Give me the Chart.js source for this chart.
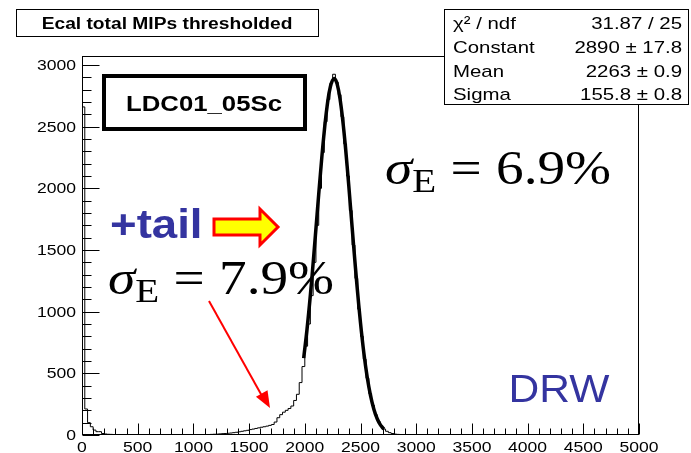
<!DOCTYPE html>
<html lang="en">
<head>
<meta charset="UTF-8">
<title>Ecal total MIPs thresholded</title>
<script src="https://cdn.jsdelivr.net/npm/chart.js"></script>
<style>
  html, body { margin: 0; padding: 0; background: #fff; }
  canvas { display: block; }
</style>
</head>
<body>
<canvas id="myChart" width="691" height="453"></canvas>
<script>
// histogram: 200 bins of width 25 from 0 to 5000
const binWidth = 25;
const counts = [
  2660, 211, 100, 67, 40, 27, 27, 12, 8, 6, 5, 4, 3, 3, 2, 2, 2, 1, 1, 1,
  1, 1, 1, 1, 0, 1, 0, 1, 0, 0, 1, 0, 0, 1, 0, 0, 1, 0, 1, 0,
  1, 1, 1, 2, 3, 4, 5, 6, 7, 9, 11, 12, 14, 16, 19, 22, 26, 30, 34, 38,
  44, 48, 53, 58, 63, 67, 72, 78, 85, 105, 140, 165, 185, 200, 215, 235, 280, 330, 425, 555,
  720, 900, 1130, 1400, 1700, 2000, 2290, 2540, 2720, 2850, 2925, 2860, 2760, 2580, 2360, 2100, 1820, 1540, 1270, 1020,
  800, 615, 460, 335, 240, 165, 112, 75, 48, 30, 19, 12, 7, 5, 3, 2, 1, 1, 0, 1,
  0, 0, 0, 0, 0, 0, 0, 0, 0, 0, 0, 0, 0, 0, 0, 0, 0, 0, 0, 0,
  0, 0, 0, 0, 0, 0, 0, 0, 0, 0, 0, 0, 0, 0, 0, 0, 0, 0, 0, 0,
  0, 0, 0, 0, 0, 0, 0, 0, 0, 0, 0, 0, 0, 0, 0, 0, 0, 0, 0, 0,
  0, 0, 0, 0, 0, 0, 0, 0, 0, 0, 0, 0, 0, 0, 0, 0, 0, 0, 0, 0
];

// gaussian fit curve
const fitX = [1990, 2020, 2050, 2080, 2110, 2140, 2170, 2200, 2230, 2263, 2290, 2320, 2350,
              2380, 2410, 2440, 2470, 2500, 2530, 2560, 2590, 2620, 2650, 2680, 2710];
const fitY = [623, 857, 1135, 1450, 1785, 2116, 2419, 2663, 2826, 2890, 2847, 2703, 2473,
              2180, 1852, 1516, 1196, 909, 666, 470, 319, 209, 132, 80, 47];

const xTicks = [0, 500, 1000, 1500, 2000, 2500, 3000, 3500, 4000, 4500, 5000];
const yTicks = [0, 500, 1000, 1500, 2000, 2500, 3000];

const statNames = ['χ² / ndf', 'Constant', 'Mean', 'Sigma'];
const statValues = ['31.87 / 25', '2890 ± 17.8', '2263 ± 0.9', '155.8 ± 0.8'];

const histPoints = [{x: 0, y: 0}];
counts.forEach((c, i) => histPoints.push({x: i * binWidth, y: c}));
histPoints.push({x: counts.length * binWidth, y: 0});

const fitPoints = fitX.map((x, i) => ({x: x, y: fitY[i]}));

const SANS = '"Liberation Sans", Arial, sans-serif';
const SERIF = '"Liberation Serif", "Times New Roman", serif';

function txt(ctx, s, x, y, font, align, sx, color) {
  ctx.save();
  ctx.font = font;
  ctx.fillStyle = color || '#000';
  ctx.textBaseline = 'alphabetic';
  const w = ctx.measureText(s).width * sx;
  let x0 = x;
  if (align === 'center') x0 = x - w / 2;
  else if (align === 'right') x0 = x - w;
  ctx.translate(x0, y);
  ctx.scale(sx, 1);
  ctx.fillText(s, 0, 0);
  ctx.restore();
  return w;
}

function sigmaE(ctx, x, base, size, num) {
  let cx = x;
  cx += txt(ctx, 'σ', cx, base, 'italic ' + size + 'px ' + SERIF, 'left', 1.15);
  cx += txt(ctx, 'E', cx, base + size * 0.16, Math.round(size * 0.7) + 'px ' + SERIF, 'left', 1.15);
  cx += size * 0.3;
  cx += txt(ctx, '=', cx, base, size + 'px ' + SERIF, 'left', 1.15);
  cx += size * 0.3;
  txt(ctx, num, cx, base, size + 'px ' + SERIF, 'left', 1.15);
}

const overlay = {
  id: 'overlay',
  afterDraw(chart) {
    const ctx = chart.ctx;
    const a = chart.chartArea;
    const xs = chart.scales.x, ys = chart.scales.y;
    ctx.save();
    ctx.strokeStyle = '#000';
    ctx.lineWidth = 1;

    // frame
    const L = Math.round(a.left) + 0.5, R = Math.round(a.right) - 0.5;
    const T = Math.round(a.top) + 0.5, B = Math.round(a.bottom) - 0.5;
    ctx.strokeRect(L, T, R - L, B - T);

    // ticks, pointing inward
    ctx.beginPath();
    for (let v = 0; v <= 5000; v += 100) {
      const px = Math.round(xs.getPixelForValue(v)) + 0.5;
      const len = v % 500 === 0 ? 11 : 6;
      ctx.moveTo(px, B); ctx.lineTo(px, B - len);
    }
    for (let v = 0; v <= ys.max; v += 100) {
      const py = Math.round(ys.getPixelForValue(v)) + 0.5;
      const len = v % 500 === 0 ? 17 : 9;
      ctx.moveTo(L, py); ctx.lineTo(L + len, py);
    }
    ctx.stroke();

    // tick labels
    xTicks.forEach(v => txt(ctx, String(v), xs.getPixelForValue(v), 452, '15px ' + SANS, 'center', 1.17));
    yTicks.forEach(v => txt(ctx, String(v), 76, ys.getPixelForValue(v) + 5, '15px ' + SANS, 'right', 1.17));

    // title box
    ctx.fillStyle = '#fff';
    ctx.fillRect(16.5, 9.5, 302, 27);
    ctx.strokeRect(16.5, 9.5, 302, 27);
    txt(ctx, 'Ecal total MIPs thresholded', 167, 29, 'bold 16px ' + SANS, 'center', 1.2);

    // stats box
    ctx.fillStyle = '#fff';
    ctx.fillRect(444.5, 9.5, 244, 95);
    ctx.strokeRect(444.5, 9.5, 244, 95);
    const bases = [29, 53, 77, 100];
    statNames.forEach((s, i) => txt(ctx, s, 453, bases[i], '17px ' + SANS, 'left', 1.2));
    statValues.forEach((s, i) => txt(ctx, s, 682, bases[i], '17px ' + SANS, 'right', 1.2));

    // LDC01_05Sc box
    ctx.lineWidth = 4;
    ctx.fillStyle = '#fff';
    ctx.fillRect(104, 76, 201, 53);
    ctx.strokeRect(104, 76, 201, 53);
    txt(ctx, 'LDC01_05Sc', 204, 111, 'bold 22px ' + SANS, 'center', 1.17);

    // sigma labels
    sigmaE(ctx, 385, 184, 48, '6.9%');
    sigmaE(ctx, 108, 294, 48, '7.9%');

    // +tail with yellow arrow
    txt(ctx, '+tail', 110, 238, 'bold 40px ' + SANS, 'left', 1.14, '#3434a0');
    ctx.beginPath();
    ctx.moveTo(214, 219); ctx.lineTo(260, 219); ctx.lineTo(260, 209);
    ctx.lineTo(278, 227); ctx.lineTo(260, 245); ctx.lineTo(260, 235);
    ctx.lineTo(214, 235); ctx.closePath();
    ctx.fillStyle = '#ffff00';
    ctx.fill();
    ctx.lineWidth = 3;
    ctx.strokeStyle = '#ff0000';
    ctx.lineJoin = 'miter';
    ctx.stroke();

    // red arrow towards the tail
    ctx.lineWidth = 2;
    ctx.beginPath();
    ctx.moveTo(209, 301); ctx.lineTo(262, 396);
    ctx.stroke();
    const ang = Math.atan2(408 - 301, 270 - 209);
    ctx.beginPath();
    ctx.moveTo(270, 408);
    ctx.lineTo(270 - 18 * Math.cos(ang - 0.38), 408 - 18 * Math.sin(ang - 0.38));
    ctx.lineTo(270 - 18 * Math.cos(ang + 0.38), 408 - 18 * Math.sin(ang + 0.38));
    ctx.closePath();
    ctx.fillStyle = '#ff0000';
    ctx.fill();

    // DRW
    txt(ctx, 'DRW', 559, 402, '38px ' + SANS, 'center', 1.12, '#3434a0');

    ctx.restore();
  }
};

new Chart(document.getElementById('myChart'), {
  type: 'line',
  data: {
    datasets: [
      {
        label: 'histogram',
        data: histPoints,
        stepped: 'before',
        borderColor: '#000',
        borderWidth: 1,
        pointRadius: 0,
        fill: false
      },
      {
        label: 'gaus fit',
        data: fitPoints,
        borderColor: '#000',
        borderWidth: 3.5,
        pointRadius: 0,
        tension: 0.4,
        fill: false
      }
    ]
  },
  options: {
    responsive: false,
    animation: false,
    devicePixelRatio: 1,
    layout: { padding: { left: 0, right: 52, top: 56, bottom: 0 } },
    plugins: { legend: { display: false }, tooltip: { enabled: false }, title: { display: false } },
    scales: {
      x: {
        type: 'linear', min: 0, max: 5000,
        grid: { display: false, drawTicks: false },
        border: { display: false },
        ticks: { display: false },
        afterFit: s => { s.height = 18; }
      },
      y: {
        type: 'linear', min: 0, max: 3073,
        grid: { display: false, drawTicks: false },
        border: { display: false },
        ticks: { display: false },
        afterFit: s => { s.height; s.width = 82; }
      }
    }
  },
  plugins: [overlay]
});
</script>
</body>
</html>
